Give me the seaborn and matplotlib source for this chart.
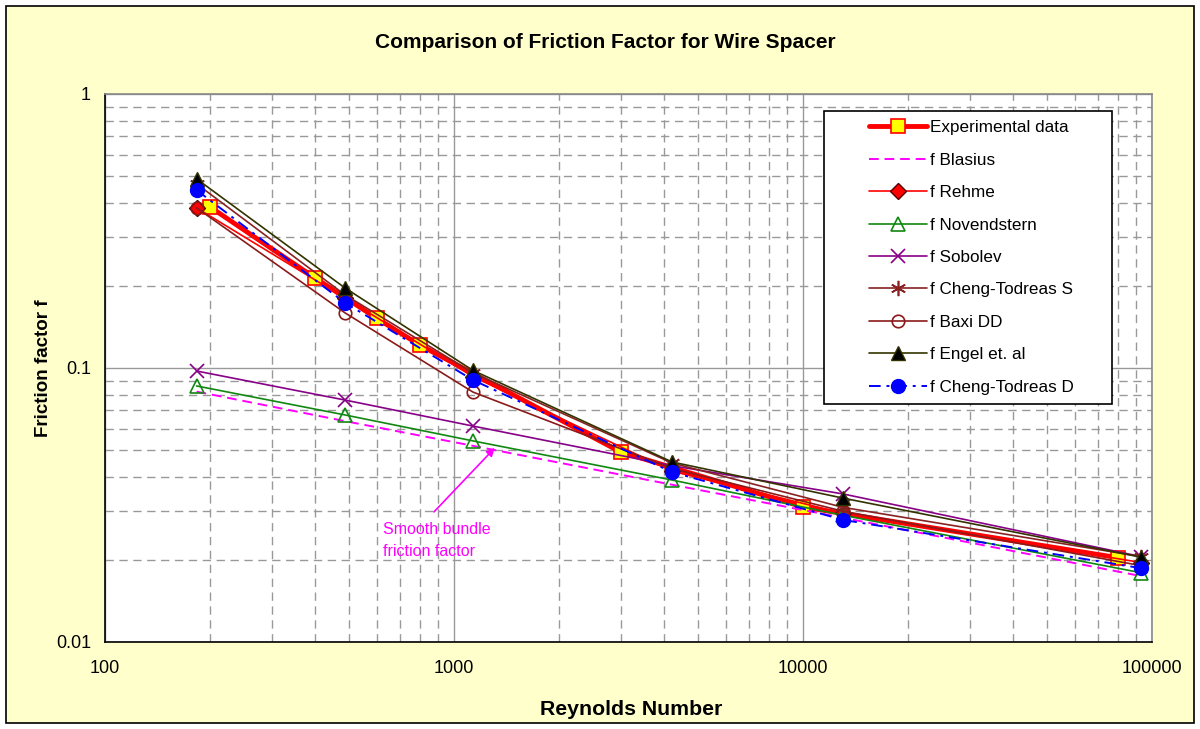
import matplotlib
matplotlib.use("Agg")
import matplotlib.pyplot as plt
from matplotlib.patches import Rectangle
from matplotlib.ticker import LogLocator, FixedLocator, NullFormatter, FixedFormatter
import seaborn as sns

sns.set_style("white")
plt.rcParams["font.family"] = ["Liberation Sans", "DejaVu Sans"]
plt.rcParams["text.color"] = "black"
plt.rcParams["axes.labelcolor"] = "black"
plt.rcParams["xtick.color"] = "black"
plt.rcParams["ytick.color"] = "black"

# Experimental measurements
re_exp = [200, 400, 600, 800, 3000, 10000, 80000]
f_exp = [0.387, 0.213, 0.152, 0.121, 0.0494, 0.0311, 0.0203]

# Reynolds numbers where the correlations are evaluated
re_corr = [183, 487, 1133, 4215, 13030, 93000]
f_blasius = [0.082, 0.064, 0.052, 0.0375, 0.0284, 0.0174]
f_rehme = [0.384, 0.180, 0.093, 0.042, 0.0295, 0.0195]
f_novendstern = [0.086, 0.0674, 0.0542, 0.039, 0.029, 0.0179]
f_sobolev = [0.0975, 0.0764, 0.0614, 0.044, 0.0347, 0.0205]
f_ct_s = [0.470, 0.185, 0.096, 0.045, 0.031, 0.0205]
f_baxi = [0.384, 0.159, 0.0817, 0.043, 0.030, 0.019]
f_engel = [0.490, 0.196, 0.098, 0.0454, 0.0335, 0.0204]
f_ct_d = [0.446, 0.173, 0.0904, 0.0417, 0.0279, 0.0186]

x_ticks = [100, 1000, 10000, 100000]
x_tick_labels = ["100", "1000", "10000", "100000"]
y_ticks = [0.01, 0.1, 1]
y_tick_labels = ["0.01", "0.1", "1"]

fig = plt.figure(figsize=(12, 7.29), dpi=100)
fig.patch.set_facecolor("white")
fig.patches.append(Rectangle((6 / 1200, 6 / 729), 1 - 12 / 1200, 1 - 12 / 729,
                             transform=fig.transFigure, facecolor="#FFFFCC",
                             edgecolor="black", linewidth=1.2, zorder=-5))

ax = fig.add_axes([105 / 1200, 1 - 642 / 729, 1047 / 1200, 548 / 729])
ax.set_zorder(1)
ax.set_facecolor("white")
ax.set_xscale("log")
ax.set_yscale("log")
ax.set_xlim(100, 100000)
ax.set_ylim(0.01, 1)

series = [
    dict(x=re_exp, y=f_exp, label="Experimental data", color="red", lw=3.5, ls="-",
         marker="s", ms=10, mfc="#FFFF00", mec="red", mew=1.2),
    dict(x=re_corr, y=f_blasius, label="f Blasius", color="#FF00FF", lw=1.4, ls=(0, (5, 3)),
         marker=None, ms=0, mfc="none", mec="none", mew=0),
    dict(x=re_corr, y=f_rehme, label="f Rehme", color="red", lw=1.2, ls="-",
         marker="D", ms=8, mfc="red", mec="#550000", mew=1.0),
    dict(x=re_corr, y=f_novendstern, label="f Novendstern", color="#118811", lw=1.2, ls="-",
         marker="^", ms=10, mfc="none", mec="#118811", mew=1.2),
    dict(x=re_corr, y=f_sobolev, label="f Sobolev", color="#880088", lw=1.2, ls="-",
         marker="x", ms=10, mfc="none", mec="#880088", mew=1.2),
    dict(x=re_corr, y=f_ct_s, label="f Cheng-Todreas S", color="#882222", lw=1.2, ls="-",
         marker=(6, 2, 0), ms=11, mfc="none", mec="#882222", mew=1.2),
    dict(x=re_corr, y=f_baxi, label="f Baxi DD", color="#8B1A1A", lw=1.2, ls="-",
         marker="o", ms=9, mfc="none", mec="#8B1A1A", mew=1.2),
    dict(x=re_corr, y=f_engel, label="f Engel et. al", color="#333300", lw=1.2, ls="-",
         marker="^", ms=10, mfc="black", mec="#333300", mew=1.0),
    dict(x=re_corr, y=f_ct_d, label="f Cheng-Todreas D", color="#0000FF", lw=1.4, ls=(0, (6, 3, 1.5, 3)),
         marker="o", ms=10, mfc="#0000FF", mec="#0000FF", mew=1.0),
]

for s in series:
    sns.lineplot(x=s["x"], y=s["y"], ax=ax, label=s["label"], color=s["color"],
                 linewidth=s["lw"], linestyle=s["ls"], marker=s["marker"],
                 markersize=s["ms"], markerfacecolor=s["mfc"],
                 markeredgecolor=s["mec"], markeredgewidth=s["mew"],
                 sort=False, estimator=None, legend=False)

# Grid: solid at decades, dashed in between
ax.xaxis.set_major_locator(FixedLocator(x_ticks))
ax.xaxis.set_major_formatter(FixedFormatter(x_tick_labels))
ax.yaxis.set_major_locator(FixedLocator(y_ticks))
ax.yaxis.set_major_formatter(FixedFormatter(y_tick_labels))
ax.xaxis.set_minor_locator(LogLocator(base=10, subs=range(2, 10)))
ax.yaxis.set_minor_locator(LogLocator(base=10, subs=range(2, 10)))
ax.xaxis.set_minor_formatter(NullFormatter())
ax.yaxis.set_minor_formatter(NullFormatter())
ax.grid(which="major", color="#999999", linestyle="-", linewidth=1.0, zorder=0)
ax.grid(which="minor", color="#999999", linestyle=(0, (6, 4)), linewidth=1.0, zorder=0)
ax.set_axisbelow(True)

ax.tick_params(axis="both", which="major", direction="inout", length=8, width=1,
               color="black", labelsize=13, pad=6)
ax.tick_params(axis="x", which="minor", direction="out", length=4, width=1, color="black")
ax.tick_params(axis="y", which="minor", length=0)
ax.tick_params(axis="x", which="major", pad=9)

for side in ["left", "bottom"]:
    ax.spines[side].set_color("black")
    ax.spines[side].set_linewidth(1.2)
for side in ["top", "right"]:
    ax.spines[side].set_visible(True)
    ax.spines[side].set_color("#888888")
    ax.spines[side].set_linewidth(1.2)

ax.set_xlabel("Reynolds Number", fontsize=15.3, fontweight="bold")
ax.xaxis.set_label_coords(0.503, -0.106)
ax.set_ylabel("Friction factor f", fontsize=13.5, fontweight="bold")
ax.yaxis.set_label_coords(-0.0505, 0.5)
fig.text(605 / 1200, 1 - 43 / 729, "Comparison of Friction Factor for Wire Spacer",
         ha="center", va="center", fontsize=15, fontweight="bold")

ax.annotate("Smooth bundle\nfriction factor", xy=(1309, 0.0511), xytext=(627, 0.0234),
            color="#FF00FF", fontsize=11.5, ha="left", va="center", linespacing=1.6,
            arrowprops=dict(arrowstyle="-|>", color="#FF00FF", lw=1.2,
                            shrinkA=7, shrinkB=0, mutation_scale=12,
                            relpos=(0.38, 1.0)))

# Legend: framed box drawn separately so the padding can be wide like a spreadsheet legend
ax.add_patch(Rectangle((0.6867, 0.4343), 0.9618 - 0.6867, 0.969 - 0.4343,
                       transform=ax.transAxes, facecolor="white", edgecolor="black",
                       linewidth=1.2, zorder=4))
leg = ax.legend(loc="upper left", bbox_to_anchor=(0.7297, 0.952), borderaxespad=0,
                borderpad=0, fontsize=12.3, frameon=False, handlelength=3.4,
                labelspacing=1.02, handletextpad=0.2)
leg.set_zorder(5)

fig.savefig("out.png", dpi=100, facecolor=fig.get_facecolor())
